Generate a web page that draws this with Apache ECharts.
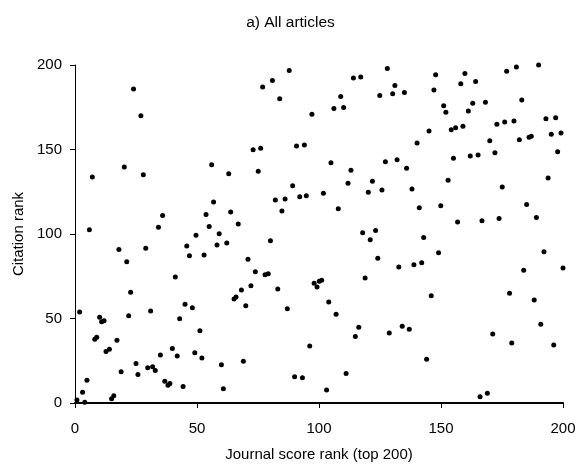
<!DOCTYPE html>
<html>
<head>
<meta charset="utf-8">
<script src="https://cdn.jsdelivr.net/npm/echarts@6/dist/echarts.min.js"></script>
<style>
html,body{margin:0;padding:0;background:#fff;}
#chart{width:581px;height:472px;}
</style>
</head>
<body>
<div id="chart"></div>
<script>
const titleText = 'a) All articles';
const xName = 'Journal score rank (top 200)';
const yName = 'Citation rank';
const xTicks = [0, 50, 100, 150, 200];
const yTicks = [0, 50, 100, 150, 200];

const journalRank = [
24.0,27.0,20.2,7.1,28.0,35.9,5.9,34.2,87.8,80.9,76.9,83.9,97.1,73.0,76.1,90.8,94.0,56.0,63.0,75.1,
89.2,82.1,86.1,92.1,94.8,56.8,53.7,63.8,84.8,55.0,66.9,49.6,59.1,128.0,114.1,117.1,147.8,131.1,108.9,124.9,
130.2,135.0,147.1,106.1,110.1,145.1,140.2,104.9,127.2,132.0,113.1,135.9,111.9,121.9,101.8,120.2,125.8,138.1,107.9,141.1,
117.9,123.2,159.8,176.9,180.9,190.0,158.1,164.2,151.1,152.0,163.0,168.2,161.2,183.1,193.0,197.0,154.2,156.0,159.0,172.9,
176.1,179.9,195.2,199.2,170.0,182.1,186.1,187.0,197.8,155.1,162.0,165.2,172.1,152.9,193.9,175.1,149.9,185.1,156.8,166.8,
173.8,189.1,18.0,29.0,21.2,45.8,46.9,41.1,22.8,1.9,31.0,22.0,45.1,48.1,42.9,10.1,10.9,11.9,8.1,8.9,
17.2,12.7,14.1,39.9,35.0,41.9,49.1,25.0,29.8,31.8,32.9,18.9,25.8,36.8,38.1,38.9,44.3,4.9,3.1,0.8,
4.0,15.0,15.9,58.2,62.2,80.1,52.9,70.9,73.9,77.9,79.2,72.1,68.2,83.1,98.0,66.0,65.2,70.0,87.0,51.2,
96.2,52.0,60.0,69.0,90.0,93.2,60.8,121.0,142.9,124.1,132.7,138.9,142.1,99.2,100.1,101.1,118.9,146.0,104.0,107.0,
116.3,114.9,128.8,134.1,137.0,144.1,111.1,103.1,149.0,192.2,183.9,200.0,178.1,188.2,190.9,171.2,179.0,196.2,166.0,169.0
];
const citationRank = [
185.8,170.0,139.6,133.7,135.1,111.0,102.5,104.0,196.8,190.9,187.0,180.1,170.8,149.9,150.7,152.1,152.7,141.0,135.7,137.1,
128.6,120.1,120.7,122.1,122.7,118.9,111.6,113.0,113.6,104.5,105.9,99.3,100.2,198.0,192.3,192.9,194.3,187.8,181.3,181.9,
183.0,183.8,185.2,174.2,174.8,160.9,153.8,142.2,142.8,144.0,137.7,138.9,130.0,131.2,124.1,124.7,126.0,126.6,115.0,115.6,
100.7,102.0,194.9,196.3,198.8,200.0,188.9,190.3,175.9,172.0,177.3,177.9,172.8,179.3,168.2,168.8,161.7,162.9,163.7,164.9,
166.3,166.9,159.0,159.8,155.2,155.8,157.2,157.8,148.7,144.8,146.2,146.7,148.1,131.8,133.1,127.8,116.7,117.5,107.1,107.9,
109.1,109.7,90.9,91.5,83.6,92.9,87.2,74.6,65.5,53.8,54.4,51.7,58.4,56.4,49.9,50.7,48.1,48.7,37.7,38.9,
37.1,30.4,31.8,32.3,28.4,27.8,29.8,23.3,20.9,21.5,19.3,18.5,16.8,12.8,10.5,11.6,9.7,13.4,6.3,1.8,
0.4,2.5,4.3,93.5,94.7,96.0,87.6,85.0,77.7,75.9,76.5,69.4,66.9,67.5,70.8,62.7,61.5,57.6,55.8,42.8,
33.7,26.6,22.7,24.7,15.6,15.0,8.5,96.6,98.0,85.6,80.5,81.8,83.0,68.6,72.0,72.6,74.0,63.5,59.8,52.5,
44.8,39.4,41.4,45.4,43.6,25.9,17.4,7.7,88.9,89.5,78.5,79.9,64.9,60.9,46.6,40.8,35.5,34.3,3.7,5.7
];

const points = journalRank.map((x, i) => [x, citationRank[i]]);
const font = 'Liberation Sans, Arial, sans-serif';

const chart = echarts.init(document.getElementById('chart'), null, {renderer: 'canvas'});
chart.setOption({
  backgroundColor: '#ffffff',
  animation: false,
  title: {
    text: titleText,
    left: 'center',
    top: 10,
    textStyle: {fontFamily: font, fontSize: 15.5, fontWeight: 'normal', color: '#000'}
  },
  grid: {left: 75, right: 18, top: 65, bottom: 69, containLabel: false},
  xAxis: {
    type: 'value',
    min: xTicks[0], max: xTicks[xTicks.length - 1], interval: 50,
    name: xName, nameLocation: 'middle', nameGap: 44,
    nameTextStyle: {fontFamily: font, fontSize: 15, color: '#000'},
    axisLine: {show: true, onZero: false, lineStyle: {color: '#000', width: 2}},
    axisTick: {show: true, inside: false, length: 5, lineStyle: {color: '#000', width: 1}},
    axisLabel: {fontFamily: font, fontSize: 15, color: '#000', margin: 18},
    splitLine: {show: false}
  },
  yAxis: {
    type: 'value',
    min: yTicks[0], max: yTicks[yTicks.length - 1], interval: 50,
    name: yName, nameLocation: 'middle', nameGap: 49, nameRotate: 90,
    nameTextStyle: {fontFamily: font, fontSize: 15, color: '#000'},
    axisLine: {show: true, onZero: false, lineStyle: {color: '#000', width: 1}},
    axisTick: {show: true, inside: false, length: 5, lineStyle: {color: '#000', width: 1}},
    axisLabel: {fontFamily: font, fontSize: 15, color: '#000', margin: 13},
    splitLine: {show: false}
  },
  series: [{
    type: 'scatter',
    data: points,
    symbol: 'circle',
    symbolSize: 5,
    itemStyle: {color: '#000', opacity: 1},
    clip: false
  }]
});
</script>
</body>
</html>
